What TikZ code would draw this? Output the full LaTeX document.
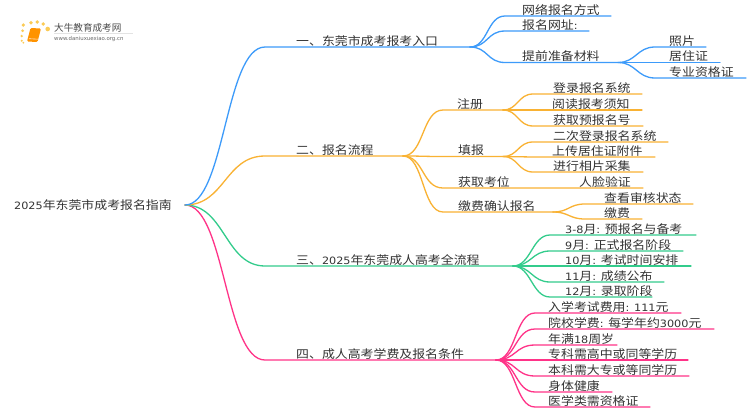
\documentclass[tikz,border=0pt]{standalone}
\usepackage{fontspec}
\setmainfont{Noto Sans CJK SC}
\newfontfamily\latfont[Scale=0.87]{DejaVu Sans}
\newfontfamily\urlfont{DejaVu Sans}
\newcommand{\lat}[1]{{\latfont #1}}
\newcommand{\T}[1]{\scalebox{1}[0.9]{#1}}
\definecolor{cblue}{HTML}{3D9BFA}
\definecolor{corange}{HTML}{F9B233}
\definecolor{cgreen}{HTML}{33CC8C}
\definecolor{cpink}{HTML}{FF3388}
\definecolor{ctext}{HTML}{333333}
\definecolor{cdot}{HTML}{FBCB55}
\tikzset{
  lab/.style={anchor=west,inner sep=0pt,text=ctext,font=\fontsize{12.9}{14}\selectfont},
  conn/.style={line width=1.3pt,line cap=round},
  dot/.style={circle,fill=cdot,inner sep=0pt,minimum size=3.6pt}
}
\usetikzlibrary{calc}
% \branch{colour}{fan}{control offset}{curve end x}{y}{line end x}{text x}{name}{text}
\newcommand{\branch}[9]{%
  \coordinate (#8s) at (#4,#5);
  \coordinate (#8e) at (#6,#5);
  \node[lab] (#8) at (#7,#5-6) {\T{#9}};
  \draw[conn,#1] (#2) .. controls ($(#2)+(#3,0)$) and ($(#8s)+(-#3,0)$) .. (#8s) -- (#8e);
}
\begin{document}
\begin{tikzpicture}[x=1pt,y=-1pt]
\useasboundingbox (0,0) rectangle (750,410);
\fill[white] (0,0) rectangle (750,410);
% logo
\foreach \p/\c/\s in {23.3/25/3.6,31/22.7/3.8,37.3/22/3.8,43.3/24/3.8,47.7/29/4.6,22.7/30.7/3,21.7/36/2.6,21.7/40.7/2.2,23.3/42.7/2}{
  \node[dot,minimum size=\s pt] at (\p,\c) {};
}
\fill[rounded corners=1.2pt,orange!85!yellow] (30.5,28) -- (41,28.5) -- (37.5,42) -- (27,41.5) -- cycle;
\draw[white!80!orange,line width=.6pt] (29,38.7) -- (38,39.2);
\draw[gray!22,line width=.5pt] (54,33) -- (133,33);
\node[inner sep=0pt,anchor=west,text=black!70,font=\fontsize{9.6}{11}\selectfont] (logot) at (54,27.5) {大牛教育成考网};
\node[inner sep=0pt,anchor=west,text=black!60,font=\urlfont\fontsize{5.4}{7}\selectfont] (logou) at (54,39) {www.daniuxuexiao.org.cn};
% root
\node[lab] (root) at (14,205) {\T{\lat{2025}年东莞市成考报名指南}};
\coordinate (r) at (185,205);
% level 1
\coordinate (a) at (265,47); \coordinate (ae) at (470,47);
\coordinate (b) at (265,156); \coordinate (be) at (403,156);
\coordinate (c) at (265,266); \coordinate (ce) at (513,266);
\coordinate (d) at (265,360); \coordinate (de) at (496,360);
\draw[conn,cpink] (r) .. controls (225,205) and (225,360) .. (d) -- (de);
\draw[conn,cgreen] (r) .. controls (225,205) and (225,266) .. (c) -- (ce);
\draw[conn,corange] (r) .. controls (225,205) and (225,156) .. (b) -- (be);
\draw[conn,cblue] (r) .. controls (225,205) and (225,47) .. (a) -- (ae);
\node[lab] (at) at (296,41) {\T{一、东莞市成考报考入口}};
\node[lab] (bt) at (296,150) {\T{二、报名流程}};
\node[lab] (ct) at (296,260) {\T{三、\lat{2025}年东莞成人高考全流程}};
\node[lab] (dt) at (296,354) {\T{四、成人高考学费及报名条件}};
% blue
\branch{cblue}{ae}{18}{505}{16}{611}{522}{a1}{网络报名方式}
\branch{cblue}{ae}{18}{505}{31}{589}{522}{a2}{报名网址\lat{:}}
\branch{cblue}{ae}{18}{505}{62.5}{618}{522}{a3}{提前准备材料}
\branch{cblue}{a3e}{18}{655}{47}{706}{669}{a31}{照片}
\branch{cblue}{a3e}{18}{655}{62.5}{720}{669}{a32}{居住证}
\branch{cblue}{a3e}{18}{655}{78}{746}{669}{a33}{专业资格证}
% orange
\branch{corange}{be}{21}{443}{110}{503}{457}{b1}{注册}
\branch{corange}{be}{21}{443}{156.5}{503}{458}{b2}{填报}
\branch{corange}{be}{21}{443}{188}{643}{458}{b3}{获取考位}
\branch{corange}{be}{21}{443}{212}{553}{458}{b4}{缴费确认报名}
\branch{corange}{b1e}{15}{533}{94}{642}{553}{b11}{登录报名系统}
\branch{corange}{b1e}{15}{533}{110}{642}{552}{b12}{阅读报考须知}
\branch{corange}{b1e}{15}{533}{126}{643}{553}{b13}{获取预报名号}
\branch{corange}{b2e}{15}{533}{142}{668}{553}{b21}{二次登录报名系统}
\branch{corange}{b2e}{15}{533}{157}{655}{552}{b22}{上传居住证附件}
\branch{corange}{b2e}{15}{533}{172}{643}{553}{b23}{进行相片采集}
\node[lab] (b31) at (579,182) {\T{人脸验证}};
\branch{corange}{b4e}{16}{585}{204}{693}{604}{b41}{查看审核状态}
\branch{corange}{b4e}{16}{585}{219}{642}{604}{b42}{缴费}
% green
\branch{cgreen}{ce}{18}{550}{235}{696}{565}{c1}{\lat{3-8}月\lat{: }预报名与备考}
\branch{cgreen}{ce}{18}{550}{251}{683}{565}{c2}{\lat{9}月\lat{: }正式报名阶段}
\branch{cgreen}{ce}{18}{550}{266}{691}{565}{c3}{\lat{10}月\lat{: }考试时间安排}
\branch{cgreen}{ce}{18}{550}{282}{664}{565}{c4}{\lat{11}月\lat{: }成绩公布}
\branch{cgreen}{ce}{18}{550}{297}{652}{565}{c5}{\lat{12}月\lat{: }录取阶段}
% pink
\branch{cpink}{de}{20}{535}{313}{681}{548}{d1}{入学考试费用\lat{: 111}元}
\branch{cpink}{de}{20}{535}{329}{714}{548}{d2}{院校学费\lat{: }每学年约\lat{3000}元}
\branch{cpink}{de}{20}{535}{345}{617}{548}{d3}{年满\lat{18}周岁}
\branch{cpink}{de}{20}{535}{360}{688}{548}{d4}{专科需高中或同等学历}
\branch{cpink}{de}{20}{535}{376}{689}{548}{d5}{本科需大专或等同学历}
\branch{cpink}{de}{20}{535}{392}{612}{548}{d6}{身体健康}
\branch{cpink}{de}{20}{535}{407}{650}{548}{d7}{医学类需资格证}
\end{tikzpicture}
\end{document}
